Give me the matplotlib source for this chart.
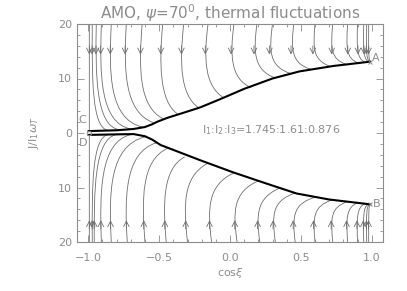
import matplotlib
matplotlib.use("Agg")
import numpy as np
import matplotlib.pyplot as plt
from matplotlib.path import Path
from matplotlib.patches import PathPatch
from matplotlib.ticker import MultipleLocator

# ---------------- data ----------------
title = r"AMO, $\psi$=70$^0$, thermal fluctuations"
xlabel = r"cos$\xi$"
ylabel = r"J/I$_1\omega_T$"
annotation = r"I$_1$:I$_2$:I$_3$=1.745:1.61:0.876"

xticks = [-1.0, -0.5, 0.0, 0.5, 1.0]
xticklabels = ["\u22121.0", "\u22120.5", "0.0", "0.5", "1.0"]
yticks = [-20, -10, 0, 10, 20]
yticklabels = ["20", "10", "0", "10", "20"]

# upper attractor (thick line) -> ends at A
upper_att_x = [-1.00, -0.80, -0.68, -0.60, -0.55, -0.51, -0.44, -0.33, -0.21, -0.07, 0.10, 0.30, 0.49, 0.73, 0.96, 0.99]
upper_att_J = [0.35, 0.50, 0.74, 1.10, 1.60, 2.10, 2.80, 3.70, 4.70, 6.20, 8.10, 10.0, 11.3, 12.3, 13.0, 13.1]
# lower attractor (thick line) -> ends at B
lower_att_x = [-1.00, -0.80, -0.68, -0.60, -0.55, -0.49, -0.40, -0.21, 0.02, 0.26, 0.47, 0.70, 0.96, 0.99]
lower_att_J = [-0.35, -0.25, -0.20, -0.60, -1.20, -2.20, -3.10, -5.00, -7.20, -9.30, -11.1, -12.2, -13.0, -13.1]

# upper trajectories (cubic Bezier): start x at J=20, two control points, join point on attractor
upper_x0 = [-0.993, -0.972, -0.944, -0.908, -0.838, -0.732, -0.620, -0.475, -0.327, -0.155,
            0.028, 0.190, 0.300, 0.450, 0.600, 0.725, 0.830, 0.900, 0.944, 0.965, 0.979]
upper_c1x = [-0.993, -0.975, -0.950, -0.920, -0.855, -0.750, -0.645, -0.500, -0.355, -0.185,
             0.000, 0.165, 0.275, 0.430, 0.585, 0.710, 0.820, 0.895, 0.940, 0.962, 0.978]
upper_c1J = [10.0, 10.0, 11.0, 11.0, 11.0, 12.0, 12.0, 13.0, 13.0, 14.0,
             14.5, 15.0, 15.0, 15.5, 15.5, 15.5, 15.5, 15.5, 15.5, 15.0, 15.0]
upper_c2J = [3.0, 0.8, 1.2, 1.8, 2.6, 3.8, 4.8, 5.8, 7.0, 8.6,
             10.0, 11.5, 12.2, 12.8, 13.3, 13.6, 13.8, 13.8, 13.8, 13.6, 13.4]
upper_join_x = [-0.993, -0.86, -0.78, -0.70, -0.62, -0.54, -0.47, -0.37, -0.22, -0.04,
                0.15, 0.32, 0.43, 0.57, 0.71, 0.82, 0.90, 0.95, 0.975, 0.985, 0.99]
upper_join_J = [0.4, 0.5, 0.6, 0.75, 1.1, 1.9, 2.6, 3.5, 4.6, 6.4,
                8.3, 10.1, 10.9, 11.7, 12.2, 12.6, 12.9, 13.0, 13.1, 13.1, 13.1]

# lower trajectories
lower_x0 = [-0.993, -0.972, -0.958, -0.908, -0.838, -0.725, -0.600, -0.450, -0.300, -0.130,
            0.050, 0.210, 0.320, 0.460, 0.600, 0.725, 0.830, 0.900, 0.944, 0.965, 0.979]
lower_c1x = [-0.993, -0.975, -0.960, -0.920, -0.855, -0.745, -0.625, -0.475, -0.330, -0.160,
             0.020, 0.185, 0.295, 0.440, 0.585, 0.710, 0.820, 0.895, 0.940, 0.962, 0.978]
lower_c1J = [-10.0, -10.0, -11.0, -11.0, -11.0, -12.0, -12.0, -13.0, -13.0, -14.0,
             -14.5, -15.0, -15.0, -15.5, -15.5, -15.5, -15.5, -15.5, -15.5, -15.0, -15.0]
lower_c2J = [-3.0, -0.8, -1.0, -1.6, -2.4, -3.6, -5.0, -6.5, -8.0, -9.5,
             -10.8, -12.0, -12.5, -13.0, -13.4, -13.6, -13.7, -13.7, -13.6, -13.4, -13.3]
lower_join_x = [-0.993, -0.86, -0.80, -0.70, -0.60, -0.52, -0.44, -0.32, -0.16, 0.03,
                0.20, 0.35, 0.46, 0.60, 0.72, 0.83, 0.90, 0.95, 0.975, 0.985, 0.99]
lower_join_J = [-0.4, -0.3, -0.28, -0.3, -0.7, -1.8, -2.8, -4.4, -5.6, -7.3,
                -8.8, -10.1, -11.0, -11.8, -12.3, -12.6, -12.8, -13.0, -13.05, -13.1, -13.1]

points = {"A": (0.99, 13.1), "B": (0.99, -13.1)}

# ---------------- figure ----------------
GREY = "#8c8c8c"
LINE = "#6e6e6e"
fig = plt.figure(figsize=(4.07, 2.91), dpi=100)
ax = fig.add_axes([77 / 407, 1 - 242 / 291, (383 - 77) / 407, (242 - 24) / 291])
ax.set_xlim(-1.08, 1.08)
ax.set_ylim(-20, 20)


def draw_traj(x0, jstart, c1x, c1J, c2J, xj, jj, arrow_J, down):
    verts = [(x0, jstart), (c1x, c1J), (c1x, c2J), (xj, jj)]
    codes = [Path.MOVETO, Path.CURVE4, Path.CURVE4, Path.CURVE4]
    path = Path(verts, codes)
    ax.add_patch(PathPatch(path, fill=False, ec=LINE, lw=0.6, zorder=2))
    # arrow placed where the drawn curve crosses arrow_J
    poly = path.to_polygons(closed_only=False)[0]
    ys = poly[:, 1]
    idx = np.where((ys[:-1] - arrow_J) * (ys[1:] - arrow_J) <= 0)[0]
    if len(idx):
        i = idx[0]
        (xa, ya), (xb, yb) = poly[i], poly[i + 1]
        f = 0.0 if yb == ya else (arrow_J - ya) / (yb - ya)
        xt = xa + f * (xb - xa)
    else:
        xt = x0
    d = 1.0 if down else -1.0
    ax.annotate("", xy=(xt, arrow_J), xytext=(xt, arrow_J + d * 1.6),
                arrowprops=dict(arrowstyle="->,head_length=0.4,head_width=0.2",
                                color=LINE, lw=0.6, shrinkA=0, shrinkB=0), zorder=3)


for x0, a, b, c, xj, jj in zip(upper_x0, upper_c1x, upper_c1J, upper_c2J, upper_join_x, upper_join_J):
    draw_traj(x0, 20, a, b, c, xj, jj, 14.4, True)
for x0, a, b, c, xj, jj in zip(lower_x0, lower_c1x, lower_c1J, lower_c2J, lower_join_x, lower_join_J):
    draw_traj(x0, -20, a, b, c, xj, jj, -16.0, False)

ax.plot(upper_att_x, upper_att_J, color="black", lw=1.5, zorder=4, solid_capstyle="round")
ax.plot(lower_att_x, lower_att_J, color="black", lw=1.5, zorder=4, solid_capstyle="round")

# markers and labels
for name, (px, py) in points.items():
    ax.plot(px, py, marker="x", ms=3.5, color=GREY, mew=0.7, zorder=5)
    ax.text(px + 0.015, py + (0.6 if name == "A" else 0.0), name, color=GREY, fontsize=8,
            ha="left", va="center", zorder=5)
ax.plot(-0.993, 0.0, marker="o", ms=3.2, mfc="none", mec=GREY, mew=0.7, zorder=5)
ax.text(-1.07, 2.4, "C", color=GREY, fontsize=8, ha="left", va="center")
ax.text(-1.07, -1.9, "D", color=GREY, fontsize=8, ha="left", va="center")

ax.text(-0.2, 0.55, annotation, color=GREY, fontsize=8, ha="left", va="center")

# axes styling
for s in ax.spines.values():
    s.set_color(GREY)
    s.set_linewidth(0.8)
ax.set_xticks(xticks)
ax.set_xticklabels(xticklabels)
ax.set_yticks(yticks)
ax.set_yticklabels(yticklabels)
ax.xaxis.set_minor_locator(MultipleLocator(0.1))
ax.yaxis.set_minor_locator(MultipleLocator(2))
ax.tick_params(which="both", direction="in", top=True, right=True, colors=GREY,
               labelcolor=GREY, labelsize=8, width=0.6)
ax.tick_params(which="major", length=5)
ax.tick_params(which="minor", length=2.5)
ax.tick_params(axis="x", pad=8)
ax.set_xlabel(xlabel, color=GREY, fontsize=8, labelpad=2)
ax.set_ylabel(ylabel, color=GREY, fontsize=8, labelpad=12)
ax.set_title(title, color=GREY, fontsize=11, pad=2)

fig.savefig("out.png", dpi=100)
